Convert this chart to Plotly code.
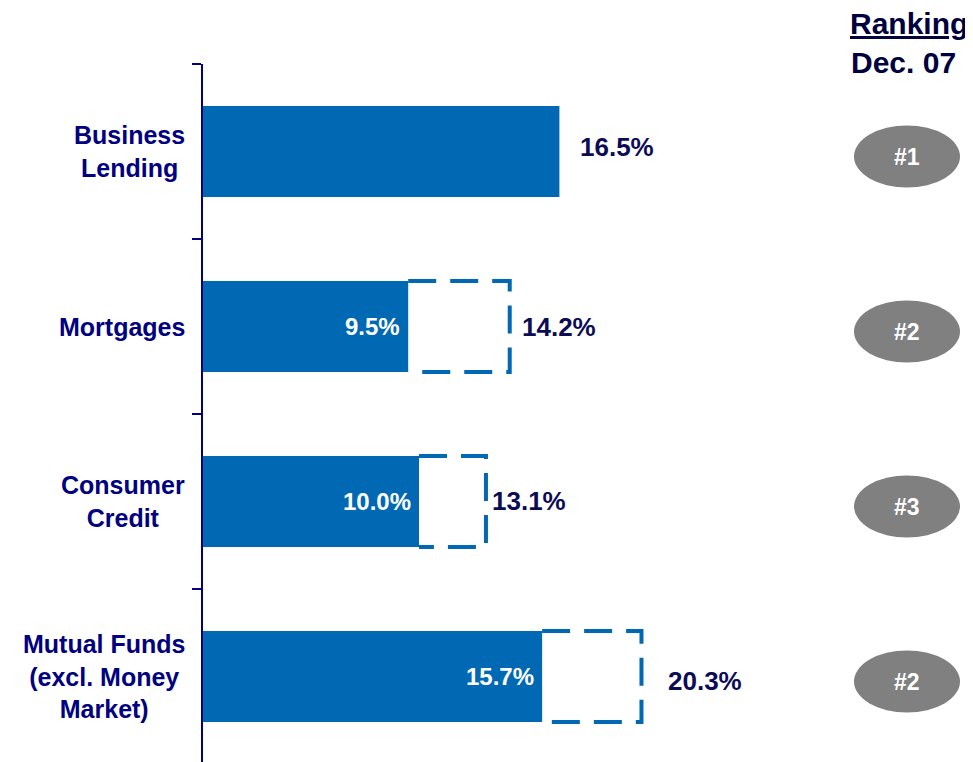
import plotly.graph_objects as go

# ---- data ----
categories = ["Business<br>Lending", "Mortgages", "Consumer<br>Credit",
              "Mutual Funds<br>(excl. Money<br>Market)"]
solid_share = [16.5, 9.5, 10.0, 15.7]      # solid bar values (%)
total_share = [16.5, 14.2, 13.1, 20.3]     # dashed-outline total values (%)
rankings = ["#1", "#2", "#3", "#2"]
header_title = "Ranking"
header_date = "Dec. 07"

# ---- styles ----
BLUE = "#0168B3"
NAVY = "#000080"
DARK = "#0C0C55"
GRAY = "#808080"
FONT = "Liberation Sans, Arial, sans-serif"
PX_PER_UNIT = 21.6
BODY = 8                      # default page body margin
LEFT, TOP = 203, 64           # plot-area corner in page pixels
W, H = 973 - BODY, 762 - BODY
plot_w = W - (LEFT - BODY)
plot_h = H - (TOP - BODY)
band_px = 175.0
bar_w = 0.52

out_xshift = [19, 10, 4, 25]
out_yshift = [5, 0, 1, -4]

ypos = list(range(len(categories)))

fig = go.Figure()
fig.add_trace(go.Bar(
    y=ypos, x=solid_share, orientation="h", width=bar_w,
    marker=dict(color=BLUE, line=dict(width=0)),
    hoverinfo="skip", showlegend=False,
))

# dashed outline of the remaining share
ox, oy = [], []
for i, (s, t) in enumerate(zip(solid_share, total_share)):
    if t > s:
        y0, y1 = i - bar_w / 2, i + bar_w / 2
        ox += [s, t, t, s, None]
        oy += [y0, y0, y1, y1, None]
fig.add_trace(go.Scatter(
    x=ox, y=oy, mode="lines",
    line=dict(color=BLUE, width=4, dash="28px,14px"),
    hoverinfo="skip", showlegend=False,
))

ann = []
shapes = []
for i, cat in enumerate(categories):
    ann.append(dict(x=0, y=i, xref="x", yref="y", text=cat, showarrow=False,
                    xanchor="right", yanchor="middle", align="center", xshift=-16,
                    font=dict(family=FONT, size=25, color=NAVY, weight="bold")))
    ann.append(dict(x=total_share[i], y=i, xref="x", yref="y",
                    text=f"{total_share[i]:.1f}%", showarrow=False,
                    xanchor="left", yanchor="middle",
                    xshift=out_xshift[i], yshift=out_yshift[i],
                    font=dict(family=FONT, size=26, color=DARK, weight="bold")))
    if total_share[i] > solid_share[i]:
        ann.append(dict(x=solid_share[i], y=i, xref="x", yref="y",
                        text=f"{solid_share[i]:.1f}%", showarrow=False,
                        xanchor="right", yanchor="middle", xshift=-6,
                        font=dict(family=FONT, size=24, color="white", weight="bold")))
    cx = (907 - LEFT) / plot_w
    hw = 53 / plot_w
    cy = i + 5 / band_px
    hh = 31 / band_px
    shapes.append(dict(type="circle", xref="paper", yref="y",
                       x0=cx - hw, x1=cx + hw, y0=cy - hh, y1=cy + hh,
                       fillcolor=GRAY, line=dict(width=0), layer="above"))
    ann.append(dict(x=cx, y=cy, xref="paper", yref="y", text=rankings[i],
                    showarrow=False, xanchor="center", yanchor="middle",
                    font=dict(family=FONT, size=23, color="white", weight="bold")))

ann.append(dict(x=(909 - LEFT) / plot_w, y=1 + (TOP - 23) / plot_h, xref="paper", yref="paper",
                text=f"<u>{header_title}</u>", showarrow=False,
                xanchor="center", yanchor="middle",
                font=dict(family=FONT, size=30, color="#000040", weight="bold")))
ann.append(dict(x=(903 - LEFT) / plot_w, y=1 + (TOP - 63) / plot_h, xref="paper", yref="paper",
                text=header_date, showarrow=False,
                xanchor="center", yanchor="middle",
                font=dict(family=FONT, size=30, color="#000040", weight="bold")))

y_bottom = -0.5 + plot_h / band_px
fig.update_layout(
    width=W, height=H,
    margin=dict(l=LEFT - BODY, r=0, t=TOP - BODY, b=0, pad=0),
    paper_bgcolor="white", plot_bgcolor="white",
    xaxis=dict(visible=False, range=[0, plot_w / PX_PER_UNIT]),
    yaxis=dict(range=[y_bottom, -0.5], showgrid=False, zeroline=False,
               showline=True, linecolor=NAVY, linewidth=2,
               ticks="outside", ticklen=9, tickwidth=2, tickcolor=NAVY,
               tickvals=[-0.5, 0.5, 1.5, 2.5], showticklabels=False),
    annotations=ann, shapes=shapes, showlegend=False,
)

fig.write_html("out.html")
